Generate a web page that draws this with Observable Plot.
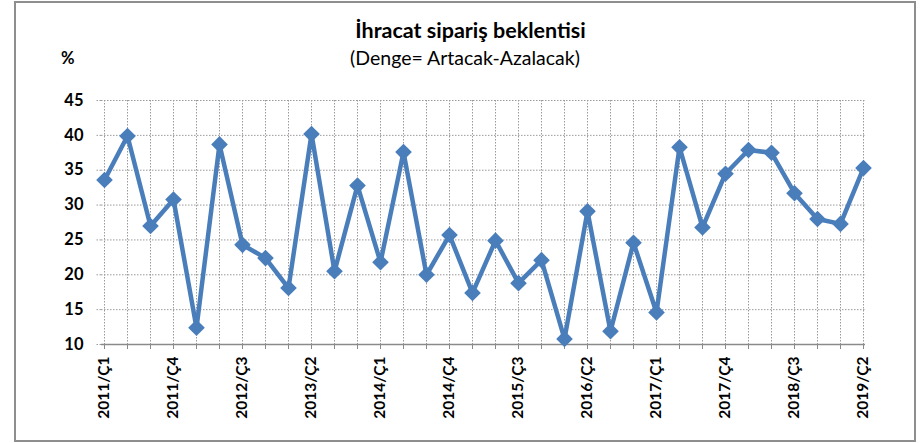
<!DOCTYPE html>
<html><head><meta charset="utf-8">
<script src="https://cdn.jsdelivr.net/npm/d3@7"></script>
<script src="https://cdn.jsdelivr.net/npm/@observablehq/plot@0.6"></script>
<style>
body{margin:0;background:#fff;}
#wrap{position:relative;width:923px;height:443px;font-family:Lato,"Open Sans",sans-serif;color:#000;overflow:hidden}
#frame{position:absolute;left:14px;top:1px;width:898px;height:437px;border:2px solid #8e8e8e;}
#title{position:absolute;left:0;width:941px;top:17px;text-align:center;font-weight:bold;font-size:21.5px;}
#subtitle{position:absolute;left:0;width:930px;top:46px;text-align:center;font-size:19.5px;}
#pct{position:absolute;left:61px;top:48px;font-weight:bold;font-size:16.5px;}
#chart{position:absolute;left:0;top:0;}
</style></head>
<body>
<div id="wrap">
  <div id="frame"></div>
  <div id="title">İhracat sipariş beklentisi</div>
  <div id="subtitle">(Denge= Artacak-Azalacak)</div>
  <div id="pct">%</div>
  <div id="chart"></div>
</div>
<script>
const quarters = [
  "2011/Ç1","2011/Ç2","2011/Ç3","2011/Ç4",
  "2012/Ç1","2012/Ç2","2012/Ç3","2012/Ç4",
  "2013/Ç1","2013/Ç2","2013/Ç3","2013/Ç4",
  "2014/Ç1","2014/Ç2","2014/Ç3","2014/Ç4",
  "2015/Ç1","2015/Ç2","2015/Ç3","2015/Ç4",
  "2016/Ç1","2016/Ç2","2016/Ç3","2016/Ç4",
  "2017/Ç1","2017/Ç2","2017/Ç3","2017/Ç4",
  "2018/Ç1","2018/Ç2","2018/Ç3","2018/Ç4",
  "2019/Ç1","2019/Ç2"
];
const values = [
  33.6, 39.9, 27.0, 30.8,
  12.4, 38.7, 24.3, 22.4,
  18.1, 40.2, 20.5, 32.8,
  21.8, 37.6, 20.0, 25.7,
  17.4, 24.9, 18.8, 22.1,
  10.8, 29.1, 11.9, 24.6,
  14.6, 38.3, 26.8, 34.5,
  37.9, 37.5, 31.7, 28.0,
  27.3, 35.3
];
const xTickLabels = ["2011/Ç1","2011/Ç4","2012/Ç3","2013/Ç2","2014/Ç1","2014/Ç4","2015/Ç3","2016/Ç2","2017/Ç1","2017/Ç4","2018/Ç3","2019/Ç2"];
const yTicks = [10,15,20,25,30,35,40,45];

const data = quarters.map((q, i) => ({q, v: values[i]}));
const blue = "#4A7EBB";
const grid = "#9a9a9a";

const chart = Plot.plot({
  width: 923, height: 443,
  marginLeft: 101, marginRight: 58, marginTop: 100, marginBottom: 99,
  x: {type: "point", domain: quarters, padding: 0},
  y: {domain: [10, 45]},
  style: {fontFamily: "Lato, 'Open Sans', sans-serif", background: "transparent", color: "#000"},
  marks: [
    Plot.gridX(quarters, {stroke: grid, strokeOpacity: 1, strokeWidth: 1, strokeDasharray: "1.5,1.5"}),
    Plot.gridY(yTicks.filter(d => d > 10), {stroke: grid, strokeOpacity: 1, strokeWidth: 1, strokeDasharray: "1.5,1.5"}),
    Plot.axisY(yTicks, {tickSize: 6, tickPadding: 12, stroke: grid, strokeDasharray: "1.5,1.5", fontSize: 16.5, fontWeight: "bold", label: null}),
    Plot.ruleY([10], {stroke: "#8a8a8a", strokeWidth: 1.5}),
    Plot.axisX(quarters, {tickSize: 5, text: null, stroke: "#8a8a8a", label: null}),
    Plot.axisX(xTickLabels, {tickSize: 0, tickPadding: 12, tickRotate: -90, fontSize: 15.5, fontWeight: "bold", label: null}),
    Plot.line(data, {x: "q", y: "v", stroke: blue, strokeWidth: 4.5}),
    Plot.dot(data, {x: "q", y: "v", symbol: "diamond2", r: 7.5, fill: blue, stroke: "none"})
  ]
});
document.getElementById("chart").appendChild(chart);
</script>
</body></html>
